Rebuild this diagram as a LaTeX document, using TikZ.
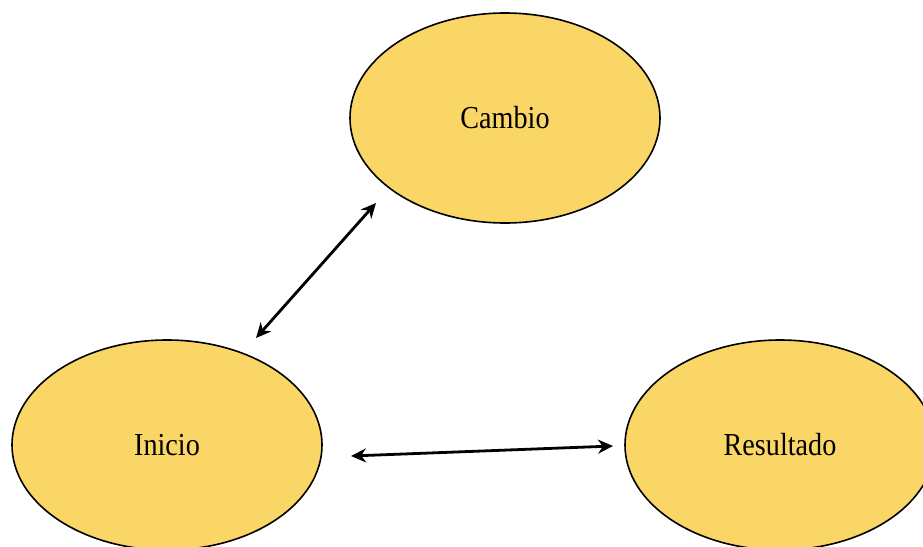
\documentclass[tikz,border=0pt]{standalone}
\usepackage{fontspec}
\setmainfont{Liberation Serif}
\usetikzlibrary{shapes.geometric,arrows.meta}
\definecolor{bubble}{RGB}{250,214,102}
\tikzset{
  bubble/.style={ellipse, draw=black, line width=1.6pt, fill=bubble,
    minimum width=310pt, minimum height=210pt, inner sep=0pt,
    font=\fontsize{32}{36}\selectfont},
  link/.style={line width=2.8pt, {Stealth[length=15pt,width=14pt]}-{Stealth[length=15pt,width=14pt]}}
}
\newcommand{\narrowtext}[1]{\scalebox{0.88}[1]{#1}}
\begin{document}
\begin{tikzpicture}[x=1pt,y=-1pt]
  \useasboundingbox (0,0) rectangle (923,546);
  \node[bubble] (cambio) at (505,118) {\narrowtext{Cambio}};
  \node[bubble] (inicio) at (167,445) {\narrowtext{Inicio}};
  \node[bubble] (resultado) at (780,445) {\narrowtext{Resultado}};
  % free arrow ends sitting between the ellipses
  \coordinate (i1) at (256,338);
  \coordinate (c1) at (376,203);
  \coordinate (i2) at (351,456);
  \coordinate (r1) at (613,446);
  \draw[link] (i1) -- (c1);
  \draw[link] (i2) -- (r1);
\end{tikzpicture}
\end{document}
